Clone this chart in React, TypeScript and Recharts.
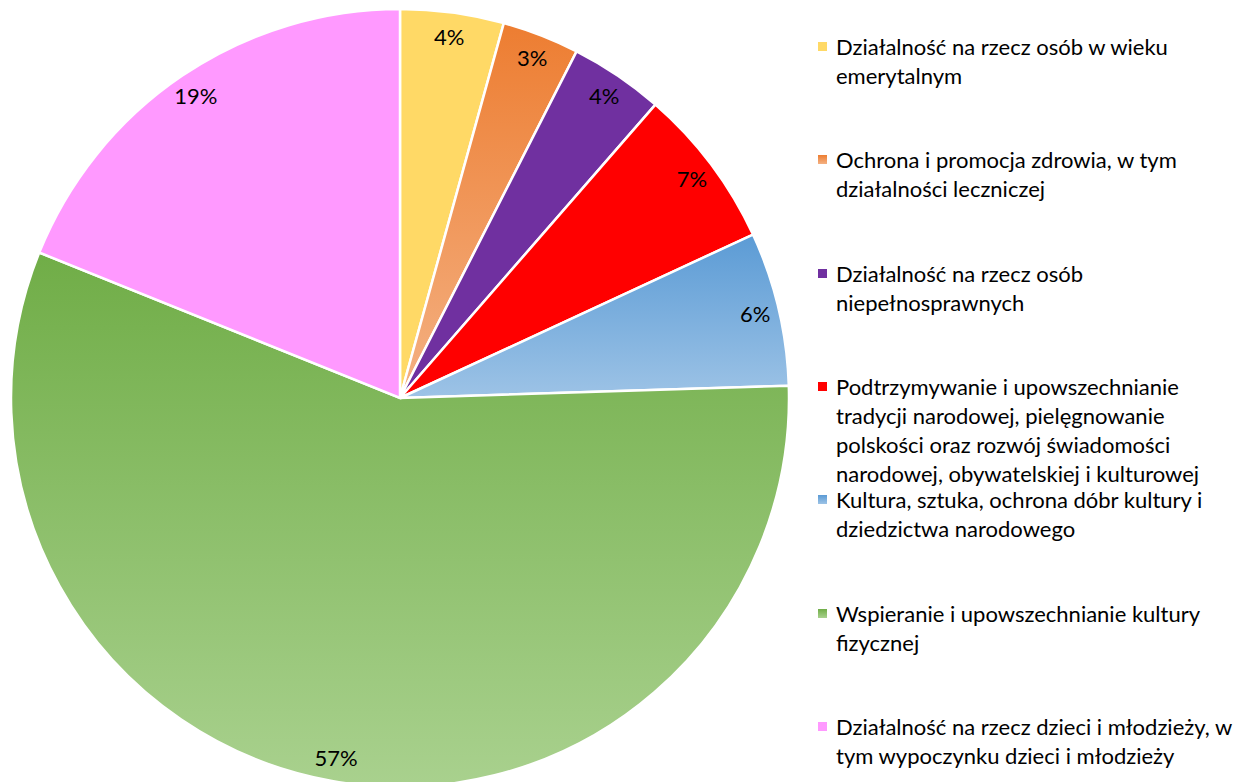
import React from 'react';
import { PieChart, Pie, Cell, Legend } from 'recharts';

const categories = [
  'Działalność na rzecz osób w wieku emerytalnym',
  'Ochrona i promocja zdrowia, w tym działalności leczniczej',
  'Działalność na rzecz osób niepełnosprawnych',
  'Podtrzymywanie i upowszechnianie tradycji narodowej, pielęgnowanie polskości oraz rozwój świadomości narodowej, obywatelskiej i kulturowej',
  'Kultura, sztuka, ochrona dóbr kultury i dziedzictwa narodowego',
  'Wspieranie i upowszechnianie kultury fizycznej',
  'Działalność na rzecz dzieci i młodzieży, w tym wypoczynku dzieci i młodzieży',
];
const shares = [4.3, 3.2, 3.9, 6.7, 6.4, 56.6, 18.9];
const topColors = ['#FFD966', '#ED7D31', '#7030A0', '#FF0000', '#5B9BD5', '#70AD47', '#FF99FF'];
const bottomColors = ['#FFD966', '#F4B183', '#7030A0', '#FF0000', '#9DC3E6', '#A9D18E', '#FF99FF'];

const data = categories.map((name, i) => ({ name, value: shares[i] }));

const FONT = 'Lato, "Noto Sans", sans-serif';
const RAD = Math.PI / 180;

const renderLabel = (props: any) => {
  const { cx, cy, midAngle, outerRadius, percent } = props;
  const r = outerRadius - 24;
  const x = cx + r * Math.cos(-midAngle * RAD);
  const y = cy + r * Math.sin(-midAngle * RAD);
  return (
    <text x={x} y={y} textAnchor="middle" dominantBaseline="central" fontSize={22} fontFamily={FONT} fill="#000">
      {Math.round(percent * 100)}%
    </text>
  );
};

const renderLegend = () => (
  <div style={{ fontFamily: FONT, fontSize: 22, lineHeight: '29px', color: '#000' }}>
    {categories.map((name, i) => (
      <div key={name} style={{ position: 'relative', height: 113.33 }}>
        <div
          style={{
            position: 'absolute',
            left: 0,
            top: 10,
            width: 9,
            height: 9,
            background: `linear-gradient(${topColors[i]}, ${bottomColors[i]})`,
          }}
        />
        <div style={{ position: 'absolute', left: 18, top: 0, width: 400 }}>{name}</div>
      </div>
    ))}
  </div>
);

export default function App() {
  return (
    <div style={{ position: 'absolute', left: 0, top: 0, width: 1235, height: 782, background: '#fff' }}>
      <PieChart width={1235} height={782} margin={{ top: 0, right: 0, bottom: 0, left: 0 }}>
        <defs>
          {topColors.map((c, i) => (
            <linearGradient key={i} id={`grad-${i}`} x1="0" y1="0" x2="0" y2="1">
              <stop offset="0%" stopColor={c} />
              <stop offset="100%" stopColor={bottomColors[i]} />
            </linearGradient>
          ))}
        </defs>
        <Pie
          data={data}
          dataKey="value"
          nameKey="name"
          cx={400}
          cy={398}
          outerRadius={389}
          startAngle={90}
          endAngle={-270}
          stroke="#fff"
          strokeWidth={2.5}
          label={renderLabel}
          labelLine={false}
          isAnimationActive={false}
        >
          {data.map((d, i) => (
            <Cell key={d.name} fill={`url(#grad-${i})`} />
          ))}
        </Pie>
        <Legend
          layout="vertical"
          verticalAlign="top"
          align="right"
          content={renderLegend}
          wrapperStyle={{ left: 818, top: 32, width: 417, right: 'auto' }}
        />
      </PieChart>
    </div>
  );
}
